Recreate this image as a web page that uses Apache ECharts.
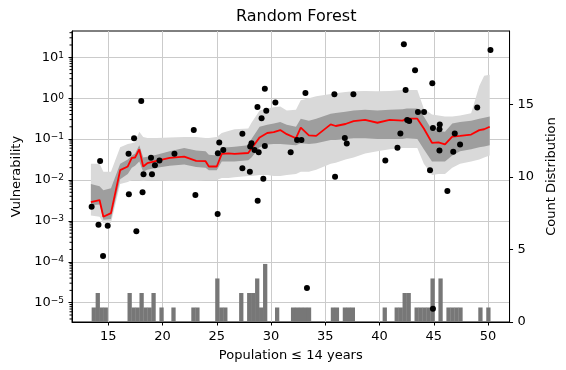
<!DOCTYPE html>
<html>
<head>
<meta charset="utf-8">
<script src="https://cdn.jsdelivr.net/npm/echarts@6/dist/echarts.min.js"></script>
<style>
  html, body { margin: 0; padding: 0; background: #fff; }
  #chart { width: 566px; height: 370px; }
</style>
</head>
<body>
<div id="chart"></div>
<script>
// band / median samples along x
const bandX = [13.4, 14.2, 14.55, 15.25, 16.1, 16.8, 17.17, 17.47, 17.86, 18.22, 18.6, 19.46, 20.66, 22.0, 23.1, 23.97, 24.27, 25.0, 25.46, 26.07, 26.64, 27.9, 28.2, 28.95, 29.65, 30.25, 30.85, 31.45, 32.3, 32.74, 33.49, 34.16, 35.5, 35.96, 36.86, 37.61, 38.67, 39.8, 40.93, 42.12, 42.51, 43.48, 44.08, 44.83, 45.43, 46.03, 46.7, 47.42, 48.44, 49.19, 49.64, 50.15]
const median = [0.00288, 0.00324, 0.00126, 0.00155, 0.0174, 0.0214, 0.0347, 0.0355, 0.0562, 0.0214, 0.0257, 0.0295, 0.0347, 0.0372, 0.0295, 0.0288, 0.0214, 0.0214, 0.0437, 0.0447, 0.0437, 0.0457, 0.0589, 0.11, 0.141, 0.148, 0.166, 0.132, 0.105, 0.191, 0.123, 0.12, 0.229, 0.209, 0.234, 0.275, 0.295, 0.251, 0.295, 0.282, 0.316, 0.316, 0.182, 0.0813, 0.0832, 0.0741, 0.115, 0.12, 0.129, 0.166, 0.174, 0.2]
const innerLow = [0.0024, 0.0025, 0.00107, 0.00112, 0.0105, 0.0141, 0.02, 0.0224, 0.0282, 0.0158, 0.0178, 0.02, 0.0224, 0.024, 0.0209, 0.02, 0.0174, 0.0174, 0.0282, 0.0282, 0.0282, 0.0302, 0.0355, 0.0631, 0.0741, 0.0759, 0.0759, 0.0741, 0.0708, 0.0794, 0.0759, 0.0794, 0.0955, 0.0955, 0.1, 0.105, 0.105, 0.1, 0.1, 0.1, 0.105, 0.1, 0.0562, 0.0282, 0.0282, 0.0282, 0.0398, 0.0501, 0.0562, 0.0631, 0.0661, 0.0708]
const innerHigh = [0.00794, 0.00708, 0.00562, 0.00631, 0.0251, 0.0316, 0.0398, 0.0447, 0.0708, 0.0355, 0.0372, 0.0417, 0.0501, 0.0603, 0.0525, 0.0501, 0.0417, 0.0398, 0.0631, 0.0631, 0.0646, 0.0708, 0.1, 0.2, 0.224, 0.24, 0.263, 0.224, 0.2, 0.316, 0.282, 0.316, 0.417, 0.437, 0.468, 0.501, 0.525, 0.501, 0.525, 0.537, 0.562, 0.562, 0.355, 0.166, 0.158, 0.151, 0.24, 0.263, 0.282, 0.316, 0.331, 0.355]
const outerLow = [0.00135, 0.00126, 0.00089, 0.00089, 0.00794, 0.00891, 0.01, 0.01, 0.01, 0.00955, 0.01, 0.01, 0.00955, 0.00955, 0.00955, 0.01, 0.01, 0.01, 0.0112, 0.0112, 0.0117, 0.0126, 0.0126, 0.0132, 0.0132, 0.0126, 0.0126, 0.0132, 0.0141, 0.0158, 0.0158, 0.0178, 0.0251, 0.0263, 0.0316, 0.0355, 0.0447, 0.0501, 0.0562, 0.0603, 0.0603, 0.0603, 0.0251, 0.0132, 0.0141, 0.0141, 0.02, 0.0251, 0.0282, 0.0316, 0.0355, 0.0398]
const outerHigh = [0.0251, 0.0251, 0.0158, 0.0158, 0.0631, 0.0759, 0.0794, 0.0832, 0.151, 0.112, 0.107, 0.107, 0.11, 0.112, 0.112, 0.107, 0.107, 0.112, 0.141, 0.158, 0.174, 0.182, 0.251, 0.501, 0.562, 0.603, 0.631, 0.501, 0.525, 0.891, 1.0, 1.12, 1.26, 1.32, 1.41, 1.48, 1.51, 1.48, 1.51, 1.58, 1.58, 1.58, 0.562, 0.398, 0.38, 0.355, 0.355, 0.38, 0.43, 2.0, 3.55, 3.72]

// observed points
const pointX = [13.47, 14.1, 14.25, 14.52, 14.95, 16.87, 16.9, 17.38, 17.59, 18.04, 18.16, 18.25, 18.94, 19.03, 19.3, 19.72, 21.1, 22.88, 23.03, 25.08, 25.1, 25.23, 25.6, 27.36, 27.36, 28.05, 28.08, 28.2, 28.48, 28.75, 28.77, 28.86, 29.13, 29.29, 29.43, 29.43, 29.56, 30.4, 31.81, 32.4, 32.8, 33.17, 33.31, 35.84, 35.9, 36.8, 36.98, 37.59, 40.53, 41.65, 41.92, 42.24, 42.4, 42.55, 42.73, 43.27, 43.54, 44.1, 44.65, 44.86, 44.92, 44.92, 45.52, 45.52, 45.55, 46.25, 46.79, 46.93, 47.42, 49.0, 50.22]
const pointY = [0.00222, 0.00081, 0.029, 0.000138, 0.00076, 0.044, 0.00447, 0.105, 0.00056, 0.855, 0.005, 0.0138, 0.035, 0.0138, 0.023, 0.03, 0.044, 0.166, 0.00427, 0.00148, 0.045, 0.083, 0.054, 0.135, 0.0195, 0.0158, 0.066, 0.079, 0.054, 0.61, 0.0031, 0.048, 0.324, 0.0107, 1.71, 0.068, 0.495, 0.79, 0.048, 0.095, 0.095, 1.34, 0.000023, 1.245, 0.012, 0.107, 0.078, 1.245, 0.03, 0.0617, 0.138, 20.8, 1.58, 0.295, 0.277, 4.79, 0.46, 0.46, 0.0174, 2.31, 0.186, 0.0000071, 0.174, 0.0525, 0.229, 0.0054, 0.049, 0.138, 0.074, 0.59, 15.1]

// histogram of x (100 bins)
const histMin = 13.47
const histMax = 50.2
const histCounts = [
  1, 2, 1, 1, 0, 0, 0, 0, 0, 2,
  1, 1, 2, 1, 1, 2, 0, 1, 0, 0,
  1, 0, 0, 0, 0, 1, 1, 0, 0, 0,
  0, 3, 1, 1, 0, 0, 0, 2, 0, 2,
  2, 3, 1, 4, 0, 0, 1, 0, 0, 0,
  1, 1, 1, 1, 1, 0, 0, 0, 0, 0,
  1, 1, 0, 1, 1, 1, 0, 0, 0, 0,
  0, 0, 0, 1, 0, 0, 1, 1, 2, 2,
  0, 1, 1, 1, 1, 3, 0, 3, 0, 1,
  1, 1, 1, 0, 0, 0, 0, 1, 0, 1
]

const xTicks = [15, 20, 25, 30, 35, 40, 45, 50]
const logTicks = [1e-5, 1e-4, 1e-3, 1e-2, 1e-1, 1, 10]
const countTicks = [0, 5, 10, 15]

const xMin = 11.66
const xMax = 51.98
const yMin = Math.pow(10, -5.472)
const yMax = Math.pow(10, 1.643)
const font = 'DejaVu Sans'

// log minor ticks 2..9 x 10^e inside the axis range
const minorTicks = []
for (let e = -6; e <= 1; e++) {
  for (let m = 2; m <= 9; m++) {
    const v = m * Math.pow(10, e)
    if (v > yMin && v < yMax) minorTicks.push(v)
  }
}

const binW = (histMax - histMin) / histCounts.length
const histData = []
histCounts.forEach((c, i) => {
  if (c > 0) histData.push([histMin + i * binW, histMin + (i + 1) * binW, c])
})

const bandRender = (lo, hi, color) => (params, api) => {
  if (params.dataIndex !== 0) return
  const top = bandX.map((x, i) => api.coord([x, hi[i]]))
  const bot = bandX.map((x, i) => api.coord([x, lo[i]])).reverse()
  return {type: 'polygon', shape: {points: top.concat(bot)}, style: {fill: color}}
}

const chart = echarts.init(document.getElementById('chart'), null, {renderer: 'canvas'})
chart.setOption({
  animation: false,
  textStyle: {fontFamily: font},
  title: {
    text: 'Random Forest', left: 236, top: 9, padding: 0,
    textStyle: {fontFamily: font, fontSize: 16, fontWeight: 'normal', color: '#000'}
  },
  grid: {left: 72, right: 47, top: 31, bottom: 48, show: true, borderColor: '#000', borderWidth: 1},
  xAxis: {
    type: 'value', min: xMin, max: xMax, splitNumber: 8,
    name: 'Population \u2264 14 years', nameLocation: 'middle', nameGap: 27,
    nameTextStyle: {fontSize: 13, color: '#000'},
    axisLine: {lineStyle: {color: '#000', width: 1}},
    axisTick: {customValues: xTicks, length: 3.5, lineStyle: {color: '#000'}},
    axisLabel: {customValues: xTicks, fontSize: 13, color: '#000', margin: 8},
    splitLine: {show: true, lineStyle: {color: '#cbcbcb', width: 1}}
  },
  yAxis: [
    {
      type: 'log', position: 'left', min: yMin, max: yMax,
      name: 'Vulnerability', nameLocation: 'middle', nameGap: 46, nameRotate: 90,
      nameTextStyle: {fontSize: 13, color: '#000'},
      axisLine: {show: true, lineStyle: {color: '#000', width: 1}},
      axisTick: {customValues: logTicks, length: 3.5, lineStyle: {color: '#000'}},
      axisLabel: {
        customValues: logTicks, margin: 8, color: '#000',
        formatter: v => {
          const e = Math.round(Math.log10(v))
          return '{b|10}{s|' + (e < 0 ? '\u2212' + (-e) : e) + '}'
        },
        rich: {
          b: {fontSize: 13, color: '#000', fontFamily: font},
          s: {fontSize: 9, color: '#000', fontFamily: font, verticalAlign: 'top'}
        }
      },
      splitLine: {show: true, lineStyle: {color: '#cbcbcb', width: 1}}
    },
    {
      type: 'value', position: 'right', min: 0, max: 20.05,
      name: 'Count Distribution', nameLocation: 'middle', nameGap: 31, nameRotate: 90,
      nameTextStyle: {fontSize: 13, color: '#000'},
      axisLine: {show: true, lineStyle: {color: '#000', width: 1}},
      axisTick: {customValues: countTicks, length: 3.5, lineStyle: {color: '#000'}},
      axisLabel: {customValues: countTicks, fontSize: 13, color: '#000', margin: 8},
      splitLine: {show: false}
    }
  ],
  series: [
    {
      type: 'custom', yAxisIndex: 0, z: 1, silent: true,
      data: bandX.map((x, i) => [x, outerLow[i], outerHigh[i]]),
      encode: {x: 0, y: [1, 2]},
      renderItem: bandRender(outerLow, outerHigh, '#d9d9d9')
    },
    {
      type: 'custom', yAxisIndex: 0, z: 2, silent: true,
      data: bandX.map((x, i) => [x, innerLow[i], innerHigh[i]]),
      encode: {x: 0, y: [1, 2]},
      renderItem: bandRender(innerLow, innerHigh, '#9e9e9e')
    },
    {
      type: 'custom', yAxisIndex: 1, z: 3, silent: true,
      data: histData,
      encode: {x: [0, 1], y: 2},
      renderItem: (params, api) => {
        const p0 = api.coord([api.value(0), 0])
        const p1 = api.coord([api.value(1), api.value(2)])
        return {
          type: 'rect',
          shape: {x: p0[0], y: p1[1], width: p1[0] - p0[0] + 0.3, height: p0[1] - p1[1]},
          style: {fill: '#777777'}
        }
      }
    },
    {
      type: 'line', yAxisIndex: 0, z: 4, symbol: 'none', silent: true,
      data: bandX.map((x, i) => [x, median[i]]),
      lineStyle: {color: '#ff0000', width: 1.8}
    },
    {
      type: 'scatter', yAxisIndex: 0, z: 5, silent: true,
      symbolSize: 6,
      itemStyle: {color: '#000', opacity: 1},
      data: pointX.map((x, i) => [x, pointY[i]])
    },
    {
      // minor ticks on the left log axis
      type: 'custom', yAxisIndex: 0, z: 6, silent: true, clip: false,
      data: minorTicks.map(v => [xMin, v]),
      encode: {x: 0, y: 1},
      renderItem: (params, api) => {
        const p = api.coord([api.value(0), api.value(1)])
        return {
          type: 'line',
          shape: {x1: p[0] - 2.5, y1: p[1], x2: p[0], y2: p[1]},
          style: {stroke: '#000', lineWidth: 1}
        }
      }
    }
  ]
})
</script>
</body>
</html>
